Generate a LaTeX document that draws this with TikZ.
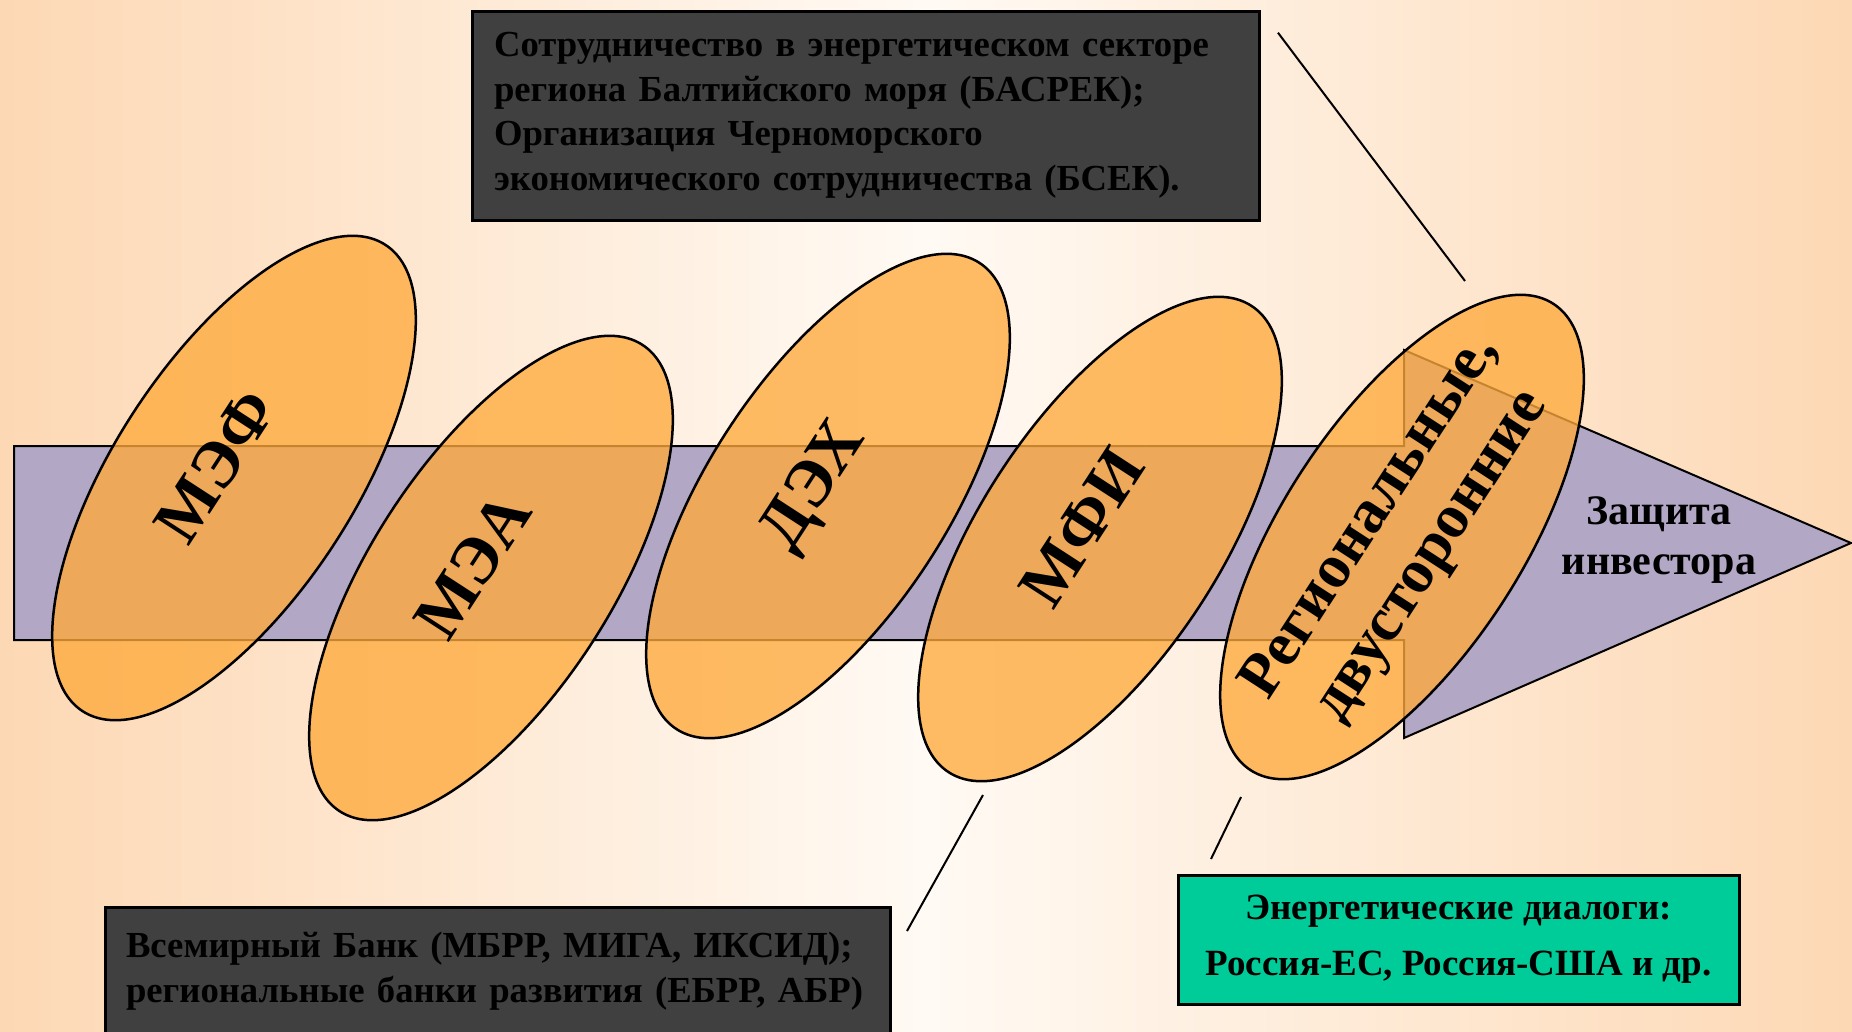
\documentclass[tikz,border=0pt]{standalone}
\usepackage{fontspec}
\setmainfont{Liberation Serif}
\usetikzlibrary{positioning,shapes.geometric}
\definecolor{bgPeach}{RGB}{253,216,180}
\definecolor{bgLight}{RGB}{255,250,244}
\definecolor{colArrow}{RGB}{178,167,196}
\definecolor{colOval}{RGB}{254,170,60}
\definecolor{colBoxGray}{RGB}{64,64,64}
\definecolor{colDialog}{RGB}{0,204,153}

\begin{document}
\begin{tikzpicture}[x=1pt, y=-1pt,
  oval/.style={ellipse, draw=black, line width=2.5pt, fill=colOval, fill opacity=0.78,
    text opacity=1, minimum width=556pt, minimum height=240pt, rotate=57,
    font=\fontsize{67}{76}\selectfont\bfseries},
  flat/.style={text height=0pt, text depth=0pt},
  darkbox/.style={rectangle, draw=black, line width=3pt, fill=colBoxGray, inner sep=0pt,
    align=left, font=\fontsize{36.7}{44.5}\selectfont\bfseries},
  dialogbox/.style={rectangle, draw=black, line width=3pt, fill=colDialog, inner sep=0pt,
    align=center, font=\fontsize{37}{56}\selectfont\bfseries},
  link/.style={line width=2pt}]
  \useasboundingbox (0,0) rectangle (1852,1031);
  \shade[left color=bgPeach, right color=bgPeach, middle color=bgLight] (0,0) rectangle (1852,1031);

  % main arrow
  \draw[line width=2pt, fill=colArrow] (14,446) -- (1404,446) -- (1404,350) -- (1851,543)
    -- (1404,738) -- (1404,640) -- (14,640) -- cycle;

  % ovals
  \node[oval, flat] (mef) at (234,478) {МЭФ};
  \node[oval, flat] (mea) at (491,578) {МЭА};
  \node[oval, flat] (deh) at (828,496) {ДЭХ};
  \node[oval, flat] (mfi) at (1100,539) {МФИ};
  \node[oval, inner sep=-100pt, align=center, font=\fontsize{62}{72}\selectfont\bfseries] (reg)
    at (1402,537) {Региональные,\\двусторонние};

  \node[font=\fontsize{42}{50}\selectfont\bfseries, align=center] (protect) at (1659,540)
    {Защита\\инвестора};

  % boxes
  \node[darkbox, minimum width=787pt, minimum height=209pt, text width=743pt] (basrec) at (865.5,115.5)
    {Сотрудничество в энергетическом секторе\\региона Балтийского моря (БАСРЕК);\\
     Организация Черноморского\\экономического сотрудничества (БСЕК).};
  \node[darkbox, minimum width=785pt, minimum height=128pt, text width=743pt] (wbank) at (497.5,971)
    {Всемирный Банк (МБРР, МИГА, ИКСИД);\\региональные банки развития (ЕБРР, АБР)};
  \node[dialogbox, minimum width=561pt, minimum height=129pt] (dialog) at (1458.5,939.5)
    {Энергетические диалоги:\\Россия-ЕС, Россия-США и др.};

  % links
  \coordinate (regtop) at (1465,281);
  \coordinate (mfilow) at (983,795);
  \coordinate (wbankend) at (907,931);
  \coordinate (reglow) at (1241,797);
  \coordinate (dialogend) at (1211,859);
  \draw[link, shorten <=29pt] (basrec.north east) -- (regtop);
  \draw[link] (wbankend) -- (mfilow);
  \draw[link] (dialogend) -- (reglow);
\end{tikzpicture}
\end{document}
